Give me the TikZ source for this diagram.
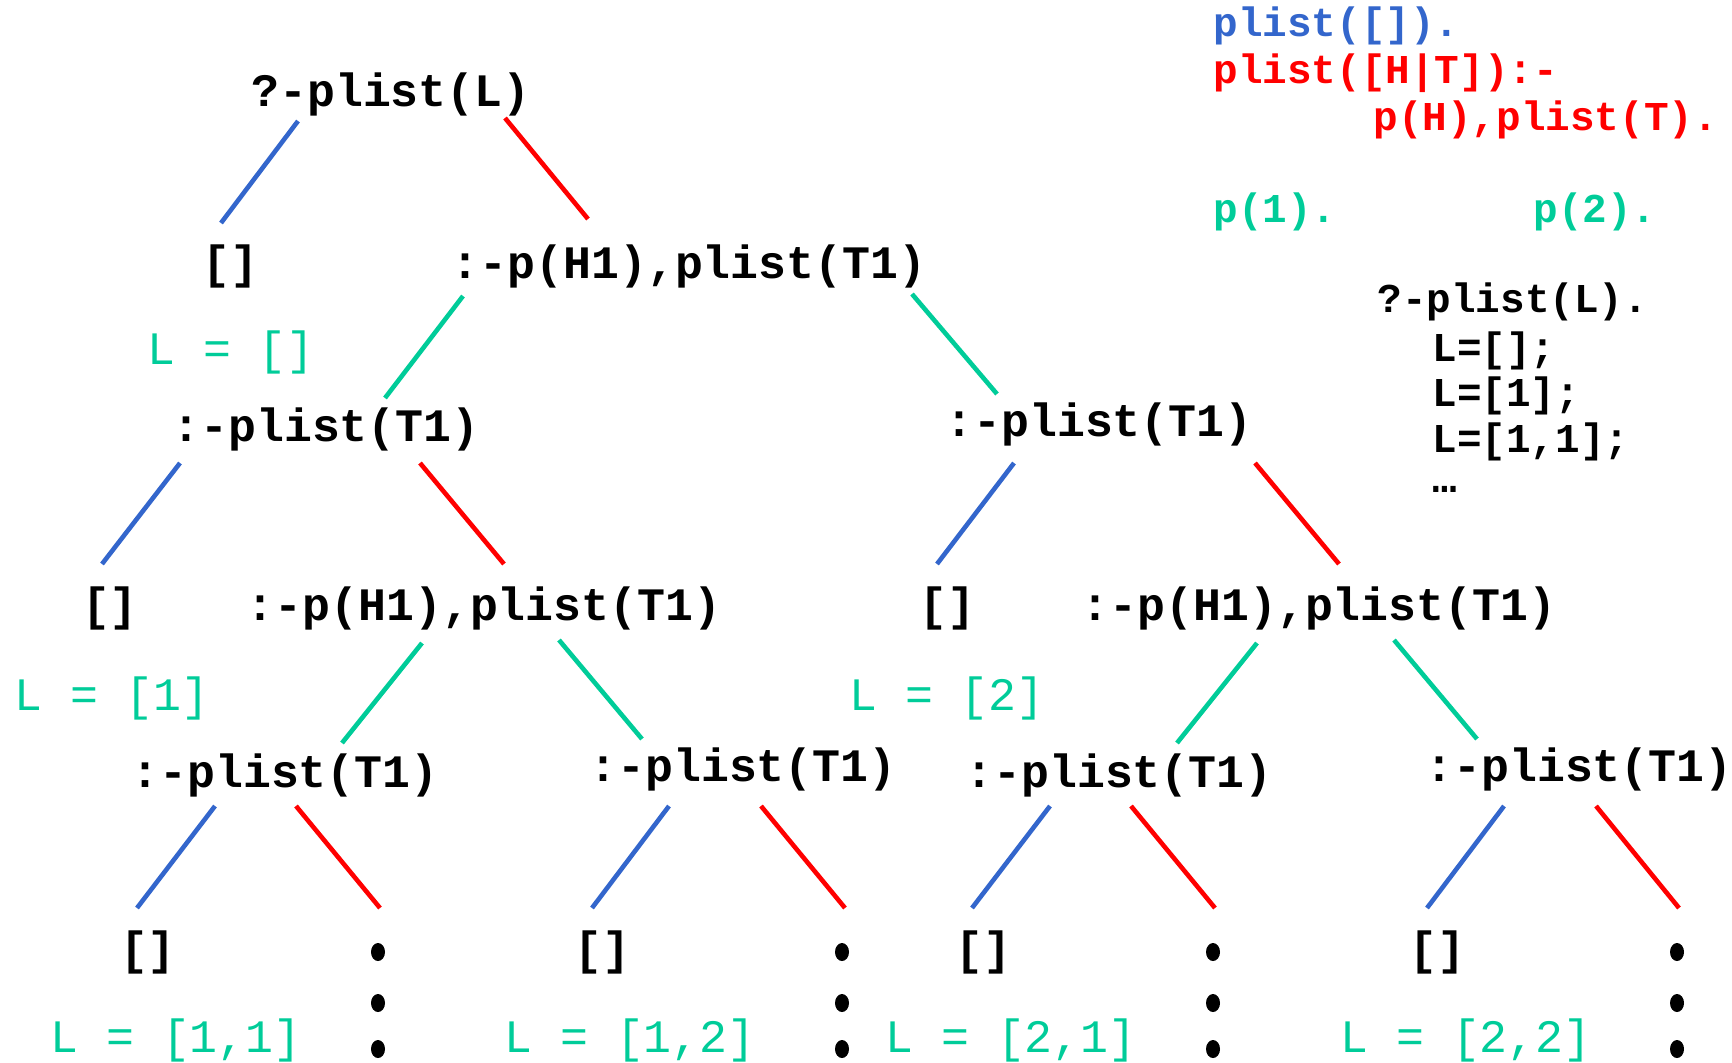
\documentclass[tikz,border=0pt]{standalone}
\usepackage{fontspec}
\usetikzlibrary{shapes.geometric}
\newfontfamily\codefont{Liberation Mono}
\definecolor{pblue}{RGB}{51,102,204}
\definecolor{pred}{RGB}{255,0,0}
\definecolor{pgreen}{RGB}{0,204,153}
\begin{document}
\begin{tikzpicture}[x=0.5pt,y=-0.5pt,
  goal/.style={anchor=base,inner sep=0pt,font=\codefont\bfseries\fontsize{23.25}{28}\selectfont},
  answer/.style={anchor=base,inner sep=0pt,text=pgreen,font=\codefont\fontsize{23.25}{28}\selectfont},
  code/.style={anchor=base west,inner sep=0pt,font=\codefont\bfseries\fontsize{20.5}{25}\selectfont},
  dotmark/.style={ellipse,fill=black,inner sep=0pt,minimum width=7pt,minimum height=9pt},
  edge/.style={line width=2.3pt},
  base case/.style={edge,draw=pblue},
  rec case/.style={edge,draw=pred},
  fact/.style={edge,draw=pgreen}]
\useasboundingbox (0,0) rectangle (1732,1062);

% program and query
\node[code,text=pblue]  (cb1) at (1213,36)  {plist([]).};
\node[code,text=pred]   (cb2) at (1213,83)  {plist([H|T]):-};
\node[code,text=pred]   (cb3) at (1373,130) {p(H),plist(T).};
\node[code,text=pgreen] (cb4) at (1213,222) {p(1).};
\node[code,text=pgreen] (cb5) at (1533,222) {p(2).};
\node[code] (q1) at (1377,312) {?-plist(L).};
\node[code] (q2) at (1432,361) {L=[];};
\node[code] (q3) at (1432,406) {L=[1];};
\node[code] (q4) at (1432,452) {L=[1,1];};
\node[code] (q5) at (1432,492) {…};

% search tree
\node[goal] (root) at (391,106) {?-plist(L)};
\node[goal] (n1a) at (230,278) {[]};
\node[goal] (n1b) at (689,278) {:-p(H1),plist(T1)};
\node[answer] (a1) at (231,364) {L = []};
\node[goal] (n2a) at (326,441) {:-plist(T1)};
\node[goal] (n2b) at (1099,436) {:-plist(T1)};
\node[goal] (n3a) at (110,620) {[]};
\node[goal] (n3b) at (484,620) {:-p(H1),plist(T1)};
\node[goal] (n3c) at (947,620) {[]};
\node[goal] (n3d) at (1319,620) {:-p(H1),plist(T1)};
\node[answer] (a2) at (112,710) {L = [1]};
\node[answer] (a3) at (947,710) {L = [2]};
\node[goal] (n4a) at (285,787) {:-plist(T1)};
\node[goal] (n4b) at (743,781) {:-plist(T1)};
\node[goal] (n4c) at (1119,787) {:-plist(T1)};
\node[goal] (n4d) at (1579,781) {:-plist(T1)};
\node[goal] (l1) at (148,964) {[]};
\node[goal] (l2) at (602,964) {[]};
\node[goal] (l3) at (983,964) {[]};
\node[goal] (l4) at (1437,964) {[]};
\node[answer] (a4) at (176,1052) {L = [1,1]};
\node[answer] (a5) at (630,1052) {L = [1,2]};
\node[answer] (a6) at (1011,1052) {L = [2,1]};
\node[answer] (a7) at (1466,1052) {L = [2,2]};

% continuing branches
\foreach \c/\x in {1/378,2/842,3/1213,4/1677}{
  \node[dotmark] (d\c a) at (\x,952) {};
  \node[dotmark] (d\c b) at (\x,1003) {};
  \node[dotmark] (d\c c) at (\x,1049) {};
}

% branch end points
\coordinate (e1s) at (298,121);  \coordinate (e1t) at (221,223);
\coordinate (e2s) at (505,118);  \coordinate (e2t) at (588,219);
\coordinate (e3s) at (463,296);  \coordinate (e3t) at (385,398);
\coordinate (e4s) at (912,294);  \coordinate (e4t) at (997,394);
\coordinate (e5s) at (180,463);  \coordinate (e5t) at (102,564);
\coordinate (e6s) at (420,463);  \coordinate (e6t) at (504,564);
\coordinate (e7s) at (1014,463); \coordinate (e7t) at (937,564);
\coordinate (e8s) at (1255,463); \coordinate (e8t) at (1339,564);
\coordinate (e9s) at (422,643);  \coordinate (e9t) at (342,743);
\coordinate (e10s) at (559,640); \coordinate (e10t) at (642,739);
\coordinate (e11s) at (1257,643);\coordinate (e11t) at (1177,743);
\coordinate (e12s) at (1394,640);\coordinate (e12t) at (1477,739);
\coordinate (e13s) at (215,806); \coordinate (e13t) at (137,908);
\coordinate (e14s) at (296,806); \coordinate (e14t) at (380,908);
\coordinate (e15s) at (669,806); \coordinate (e15t) at (592,908);
\coordinate (e16s) at (761,806); \coordinate (e16t) at (845,908);
\coordinate (e17s) at (1050,806);\coordinate (e17t) at (972,908);
\coordinate (e18s) at (1131,806);\coordinate (e18t) at (1215,908);
\coordinate (e19s) at (1504,806);\coordinate (e19t) at (1427,908);
\coordinate (e20s) at (1596,806);\coordinate (e20t) at (1679,908);

\draw[base case] (e1s) -- (e1t);
\draw[rec case]  (e2s) -- (e2t);
\draw[fact] (e3s) -- (e3t);
\draw[fact] (e4s) -- (e4t);
\draw[base case] (e5s) -- (e5t);
\draw[rec case]  (e6s) -- (e6t);
\draw[base case] (e7s) -- (e7t);
\draw[rec case]  (e8s) -- (e8t);
\draw[fact] (e9s) -- (e9t);
\draw[fact] (e10s) -- (e10t);
\draw[fact] (e11s) -- (e11t);
\draw[fact] (e12s) -- (e12t);
\draw[base case] (e13s) -- (e13t);
\draw[rec case]  (e14s) -- (e14t);
\draw[base case] (e15s) -- (e15t);
\draw[rec case]  (e16s) -- (e16t);
\draw[base case] (e17s) -- (e17t);
\draw[rec case]  (e18s) -- (e18t);
\draw[base case] (e19s) -- (e19t);
\draw[rec case]  (e20s) -- (e20t);
\end{tikzpicture}
\end{document}
